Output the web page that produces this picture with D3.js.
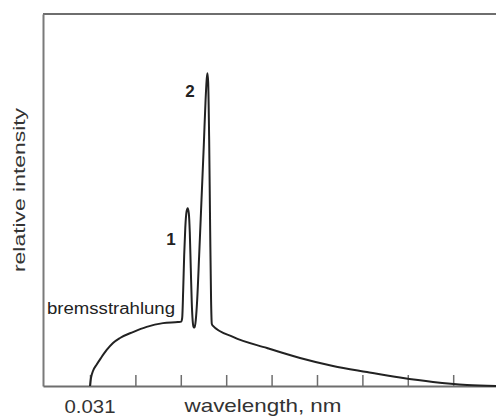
<!DOCTYPE html>
<html>
<head>
<meta charset="utf-8">
<script src="https://cdn.jsdelivr.net/npm/d3@7"></script>
<style>
  body { margin: 0; background: #fff; }
  svg { display: block; font-family: "Liberation Sans", Arial, sans-serif; }
</style>
</head>
<body>
<div id="chart"></div>
<script>
var w = 496;
var h = 418;

// spectrum (wavelength in nm, relative intensity 0-100)
var wavelength = [
  0.0310, 0.03122, 0.03166, 0.03248, 0.03342, 0.03468, 0.03607, 0.03761, 0.04047, 0.04349, 0.04708, 0.05038, 0.05109,
  0.05131, 0.05153, 0.05175, 0.05199, 0.05226, 0.05252, 0.05276, 0.05298, 0.05320, 0.05342, 0.05362, 0.05382,
  0.05404, 0.05430, 0.05461, 0.05505, 0.05556, 0.05607, 0.05646, 0.05670, 0.05686, 0.05703, 0.05725, 0.05747,
  0.05767, 0.05783,
  0.05798, 0.0625, 0.06999, 0.07726, 0.08452, 0.09201, 0.09928, 0.10655, 0.11404, 0.12131
];
var intensity = [
  0, 2.15, 4.03, 5.78, 7.53, 9.68, 11.56, 12.9, 14.5, 15.9, 16.9, 17.2, 17.3,
  18.3, 25.8, 35.2, 42.5, 46.8, 47.8, 46.5, 41.4, 31.7, 22.3, 17.5, 15.9,
  15.7, 17.7, 23.1, 35.2, 50.0, 64.8, 76.9, 82.3, 84.1, 81.7, 66.1, 41.9,
  23.1, 16.7,
  16.3, 13.2, 10.2, 7.53, 5.38, 3.76, 2.28, 1.08, 0.27, 0
];
var tickValues = [0.031, 0.041, 0.051, 0.061, 0.071, 0.081, 0.091, 0.101, 0.111];
var firstTickLabel = "0.031";
var xTitle = "wavelength, nm";
var yTitle = "relative intensity";
var peakLabels = [
  { text: "1", x: 0.04884, y: 37.9 },
  { text: "2", x: 0.05303, y: 77.7 }
];
var continuumLabel = "bremsstrahlung";

var svg = d3.select("#chart").append("svg").attr("width", w).attr("height", h);

var x = d3.scaleLinear().domain([0.02065, 0.12131]).range([43, 500]);
var y = d3.scaleLinear().domain([0, 100]).range([386, 14]);

// frame: top line and left axis line
svg.append("line")
  .attr("x1", 43).attr("x2", w)
  .attr("y1", y(100)).attr("y2", y(100))
  .attr("stroke", "#6e6e6e").attr("stroke-width", 2);

svg.append("g")
  .attr("transform", "translate(43,0)")
  .call(d3.axisLeft(y).ticks(0).tickSizeOuter(0))
  .call(function (g) {
    g.select(".domain").attr("stroke", "#7a7a7a").attr("stroke-width", 2);
  });

// bottom axis with inward ticks
svg.append("g")
  .attr("transform", "translate(0," + y(0) + ")")
  .call(d3.axisBottom(x).tickValues(tickValues).tickSize(-11).tickSizeOuter(0).tickFormat(""))
  .call(function (g) {
    g.select(".domain").attr("stroke", "#6e6e6e").attr("stroke-width", 2);
    g.selectAll(".tick line").attr("stroke", "#6e6e6e").attr("stroke-width", 1.5);
  });

var points = wavelength.map(function (d, i) {
  return [d, intensity[i]];
});

var line = d3.line()
  .x(function (d) { return x(d[0]); })
  .y(function (d) { return y(d[1]); })
  .curve(d3.curveMonotoneX);

svg.append("path")
  .datum(points)
  .attr("d", line)
  .attr("fill", "none")
  .attr("stroke", "#222")
  .attr("stroke-width", 2)
  .attr("stroke-linejoin", "round");

// texts
svg.append("text")
  .attr("x", x(0.031)).attr("y", 413)
  .attr("text-anchor", "middle")
  .attr("font-size", "18px")
  .attr("textLength", 51).attr("lengthAdjust", "spacingAndGlyphs")
  .attr("fill", "#333")
  .text(firstTickLabel);

svg.append("text")
  .attr("x", 263).attr("y", 412)
  .attr("text-anchor", "middle")
  .attr("font-size", "19px")
  .attr("textLength", 157).attr("lengthAdjust", "spacingAndGlyphs")
  .attr("fill", "#333")
  .text(xTitle);

svg.append("text")
  .attr("transform", "translate(25,190) rotate(-90)")
  .attr("text-anchor", "middle")
  .attr("font-size", "16px")
  .attr("textLength", 164).attr("lengthAdjust", "spacingAndGlyphs")
  .attr("fill", "#333")
  .text(yTitle);

svg.append("text")
  .attr("x", 47).attr("y", 314)
  .attr("font-size", "16px")
  .attr("textLength", 128).attr("lengthAdjust", "spacingAndGlyphs")
  .attr("fill", "#222")
  .text(continuumLabel);

svg.selectAll(".peak")
  .data(peakLabels)
  .enter()
  .append("text")
  .attr("class", "peak")
  .attr("x", function (d) { return x(d.x); })
  .attr("y", function (d) { return y(d.y); })
  .attr("text-anchor", "middle")
  .attr("font-size", "17px")
  .attr("font-weight", "bold")
  .attr("fill", "#222")
  .text(function (d) { return d.text; });
</script>
</body>
</html>
